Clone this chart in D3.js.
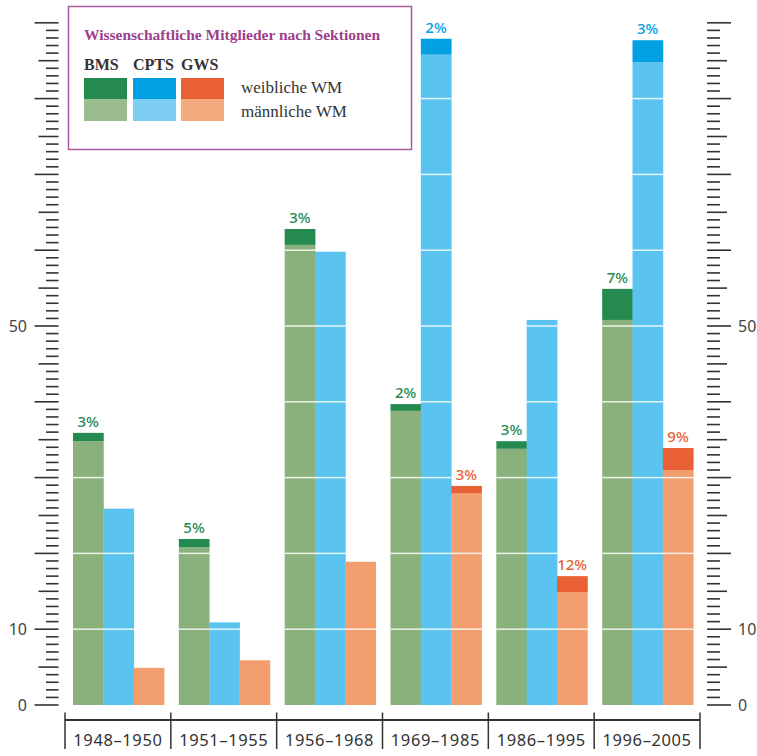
<!DOCTYPE html>
<html>
<head>
<meta charset="utf-8">
<script src="https://cdn.jsdelivr.net/npm/d3@7"></script>
<style>
  body { margin: 0; background: #fff; }
  text { font-family: "Noto Sans", sans-serif; }
  .serif { font-family: "Liberation Serif", "DejaVu Serif", serif; }
</style>
</head>
<body>
<script>
var periods = ["1948–1950", "1951–1955", "1956–1968", "1969–1985", "1986–1995", "1996–2005"];
var sections = ["BMS", "CPTS", "GWS"];

// männliche / weibliche WM per Sektion
var bmsMale    = [34.8, 20.8, 60.7, 38.8, 33.8, 50.8];
var bmsFemale  = [1.1, 1.1, 2.1, 0.9, 1.0, 4.1];
var cptsMale   = [25.9, 10.9, 59.8, 85.8, 50.8, 84.8];
var cptsFemale = [0, 0, 0, 2.1, 0, 2.9];
var gwsMale    = [4.9, 5.9, 18.9, 27.9, 14.9, 31.0];
var gwsFemale  = [0, 0, 0, 1.0, 2.1, 2.9];

var bmsPct  = ["3%", "5%", "3%", "2%", "3%", "7%"];
var cptsPct = [null, null, null, "2%", null, "3%"];
var gwsPct  = [null, null, null, "3%", "12%", "9%"];

var yLabels = [0, 10, 50];

var colors = {
  BMS:  {male: "#8ab07b", female: "#258a50", legend: "#9bbd8d"},
  CPTS: {male: "#5bc3f0", female: "#00a0e3", legend: "#7ecdf2"},
  GWS:  {male: "#f29e6e", female: "#e86034", legend: "#f5ab80"}
};

var data = periods.map(function(p, i) {
  return [
    {period: p, sec: "BMS",  male: bmsMale[i],  female: bmsFemale[i],  pct: bmsPct[i]},
    {period: p, sec: "CPTS", male: cptsMale[i], female: cptsFemale[i], pct: cptsPct[i]},
    {period: p, sec: "GWS",  male: gwsMale[i],  female: gwsFemale[i],  pct: gwsPct[i]}
  ];
});

var W = 757, H = 756;
var svg = d3.select("body").append("svg")
  .attr("width", W)
  .attr("height", H);

var y = d3.scaleLinear()
  .domain([0, 90])
  .range([705, 705 - 90 * 7.58]);

var x = d3.scaleBand()
  .domain(periods)
  .range([65, 700]);

var xs = d3.scaleBand()
  .domain(sections)
  .range([8, 99]);

// bars
var groups = svg.selectAll("g.grp").data(data).enter()
  .append("g")
  .attr("class", "grp")
  .attr("transform", function(d, i) { return "translate(" + x(periods[i]) + ",0)"; });

var bars = groups.selectAll("g.bar").data(function(d) { return d; }).enter()
  .append("g")
  .attr("class", "bar");

bars.append("rect")
  .attr("x", function(d) { return xs(d.sec); })
  .attr("width", xs.bandwidth() + 0.4)
  .attr("y", function(d) { return y(d.male); })
  .attr("height", function(d) { return y(0) - y(d.male); })
  .attr("fill", function(d) { return colors[d.sec].male; });

bars.filter(function(d) { return d.female > 0; }).append("rect")
  .attr("x", function(d) { return xs(d.sec); })
  .attr("width", xs.bandwidth() + 0.4)
  .attr("y", function(d) { return y(d.male + d.female); })
  .attr("height", function(d) { return y(d.male) - y(d.male + d.female); })
  .attr("fill", function(d) { return colors[d.sec].female; });

// white lines across bars every 10
bars.each(function(d) {
  var g = d3.select(this);
  var top = d.male + d.female;
  d3.range(10, 90, 10).filter(function(v) { return v < top; }).forEach(function(v) {
    g.append("line")
      .attr("x1", xs(d.sec))
      .attr("x2", xs(d.sec) + xs.bandwidth() + 0.4)
      .attr("y1", y(v))
      .attr("y2", y(v))
      .attr("stroke", "#fff")
      .attr("stroke-opacity", 0.85)
      .attr("stroke-width", 1.5);
  });
});

bars.filter(function(d) { return d.pct; }).append("text")
  .attr("x", function(d) { return xs(d.sec) + xs.bandwidth() / 2; })
  .attr("y", function(d) { return y(d.male + d.female) - 6; })
  .attr("text-anchor", "middle")
  .style("font-size", "15px")
  .style("font-weight", 500)
  .attr("fill", function(d) { return colors[d.sec].female; })
  .text(function(d) { return d.pct; });

// y axes with minor ticks
var tickVals = d3.range(0, 91, 1);
function tickLen(v) { return v % 10 === 0 ? 24 : (v % 5 === 0 ? 20 : 12.5); }
function tickLenR(v) { return v % 10 === 0 ? 24 : (v % 5 === 0 ? 20 : 13); }

var leftAxis = svg.append("g").attr("class", "y axis left");
leftAxis.selectAll("line").data(tickVals).enter()
  .append("line")
  .attr("x1", function(d) { return 58.5 - tickLen(d); })
  .attr("x2", 58.5)
  .attr("y1", function(d) { return y(d); })
  .attr("y2", function(d) { return y(d); })
  .attr("stroke", "#333")
  .attr("stroke-width", 1.6);
leftAxis.selectAll("text").data(yLabels).enter()
  .append("text")
  .attr("x", 27)
  .attr("y", function(d) { return y(d) + 5.5; })
  .attr("text-anchor", "end")
  .style("font-size", "16px")
  .attr("fill", "#444")
  .text(function(d) { return d; });

var rightAxis = svg.append("g").attr("class", "y axis right");
rightAxis.selectAll("line").data(tickVals).enter()
  .append("line")
  .attr("x1", 707)
  .attr("x2", function(d) { return 707 + tickLenR(d); })
  .attr("y1", function(d) { return y(d); })
  .attr("y2", function(d) { return y(d); })
  .attr("stroke", "#333")
  .attr("stroke-width", 1.6);
rightAxis.selectAll("text").data(yLabels).enter()
  .append("text")
  .attr("x", 738)
  .attr("y", function(d) { return y(d) + 5.5; })
  .attr("text-anchor", "start")
  .style("font-size", "16px")
  .attr("fill", "#444")
  .text(function(d) { return d; });

// x axis
var xAxis = svg.append("g").attr("class", "x axis");
xAxis.append("line")
  .attr("x1", 65).attr("x2", 700)
  .attr("y1", 720).attr("y2", 720)
  .attr("stroke", "#333")
  .attr("stroke-width", 2);
var bounds = periods.map(function(p) { return x(p); }).concat([x.range()[1]]);
xAxis.selectAll("line.tick").data(bounds).enter()
  .append("line")
  .attr("class", "tick")
  .attr("x1", function(d) { return d; })
  .attr("x2", function(d) { return d; })
  .attr("y1", 712.5).attr("y2", 749)
  .attr("stroke", "#333")
  .attr("stroke-width", 1.5);
xAxis.selectAll("text").data(periods).enter()
  .append("text")
  .attr("x", function(d) { return x(d) + x.bandwidth() / 2; })
  .attr("y", 745.5)
  .attr("text-anchor", "middle")
  .style("font-size", "16.5px")
  .style("letter-spacing", "0.6px")
  .attr("fill", "#333")
  .text(function(d) { return d; });

// legend
var lg = svg.append("g").attr("class", "legend");
lg.append("rect")
  .attr("x", 68.5).attr("y", 6.5)
  .attr("width", 343).attr("height", 143)
  .attr("fill", "#fff")
  .attr("stroke", "#a65c9e")
  .attr("stroke-width", 1.5);
lg.append("text")
  .attr("class", "serif")
  .attr("x", 84).attr("y", 39.5)
  .style("font-size", "15.5px")
  .style("font-weight", "bold")
  .attr("fill", "#9c3f8d")
  .text("Wissenschaftliche Mitglieder nach Sektionen");

var legX = {BMS: 84, CPTS: 133, GWS: 181};
sections.forEach(function(s) {
  lg.append("text")
    .attr("class", "serif")
    .attr("x", legX[s]).attr("y", 70)
    .style("font-size", "16px")
    .style("font-weight", "bold")
    .attr("fill", "#333")
    .text(s);
  lg.append("rect")
    .attr("x", legX[s]).attr("y", 78)
    .attr("width", 43).attr("height", 21)
    .attr("fill", colors[s].female);
  lg.append("rect")
    .attr("x", legX[s]).attr("y", 99)
    .attr("width", 43).attr("height", 22)
    .attr("fill", colors[s].legend);
});
lg.append("text")
  .attr("class", "serif")
  .attr("x", 241).attr("y", 93)
  .style("font-size", "17px")
  .attr("fill", "#333")
  .text("weibliche WM");
lg.append("text")
  .attr("class", "serif")
  .attr("x", 241).attr("y", 117)
  .style("font-size", "17px")
  .attr("fill", "#333")
  .text("männliche WM");
</script>
</body>
</html>
